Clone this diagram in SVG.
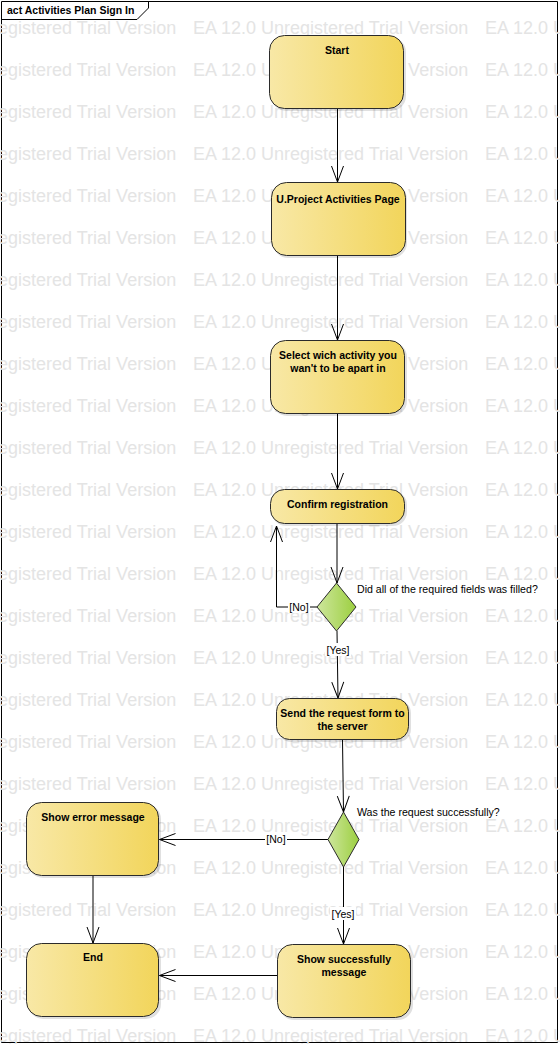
<svg xmlns="http://www.w3.org/2000/svg" xmlns:xlink="http://www.w3.org/1999/xlink" width="560" height="1044" viewBox="0 0 560 1044">
<style>
.wm{font-family:"Liberation Sans",Arial,sans-serif;font-size:18px;fill:#e4e4e4}
.node{fill:url(#yg);stroke:#2b2b2b;stroke-width:1}
.shadow{fill:#000;opacity:0.12}
.dec{fill:url(#gg);stroke:#2b2b2b;stroke-width:1}
.nt{font-family:"Liberation Sans",Arial,sans-serif;font-size:10.5px;font-weight:bold;fill:#000;text-anchor:middle}
.lt{font-family:"Liberation Sans",Arial,sans-serif;font-size:10.6px;fill:#000}
.lbl{font-family:"Liberation Sans",Arial,sans-serif;font-size:10.5px;fill:#000;text-anchor:middle}
.edge{fill:none;stroke:#000;stroke-width:1;marker-end:url(#arr)}
.frame{fill:none;stroke:#000;stroke-width:1}
</style>
<defs>
<linearGradient id="yg" x1="0" y1="0" x2="1" y2="0">
<stop offset="0" stop-color="#F8E8A6"/>
<stop offset="1" stop-color="#F2D55B"/>
</linearGradient>
<linearGradient id="gg" x1="0" y1="0" x2="1" y2="0">
<stop offset="0" stop-color="#CDE69C"/>
<stop offset="1" stop-color="#9CCF40"/>
</linearGradient>
<marker id="arr" markerUnits="userSpaceOnUse" markerWidth="20" markerHeight="16" viewBox="-18 -8 20 16" refX="0" refY="0" orient="auto">
<path d="M-16,-6 L0,0 L-16,6" fill="none" stroke="#000" stroke-width="1"/>
</marker>
<g id="wm">
<text class="wm" x="-99" y="0">EA 12.0 Unregistered Trial Version</text>
<text class="wm" x="193" y="0">EA 12.0 Unregistered Trial Version</text>
<text class="wm" x="485" y="0">EA 12.0 Unregistered Trial Version</text>
</g>
</defs>
<rect x="0" y="0" width="560" height="1044" fill="#fff"/>
<g id="frame">
<path class="frame" d="M1.5,1.5 H557.5 V1042.5 H1.5 Z"/>
<path class="frame" d="M1.5,19.5 H137 L148.5,8 V1.5"/>
<text x="7" y="14" font-family="Liberation Sans, Arial, sans-serif" font-size="10.5" font-weight="bold" fill="#000">act Activities Plan Sign In</text>
</g>
<g id="watermark">
<use xlink:href="#wm" y="33.5"/><use xlink:href="#wm" y="75.5"/><use xlink:href="#wm" y="117.5"/><use xlink:href="#wm" y="159.5"/><use xlink:href="#wm" y="201.5"/>
<use xlink:href="#wm" y="243.5"/><use xlink:href="#wm" y="285.5"/><use xlink:href="#wm" y="327.5"/><use xlink:href="#wm" y="369.5"/><use xlink:href="#wm" y="411.5"/>
<use xlink:href="#wm" y="453.5"/><use xlink:href="#wm" y="495.5"/><use xlink:href="#wm" y="537.5"/><use xlink:href="#wm" y="579.5"/><use xlink:href="#wm" y="621.5"/>
<use xlink:href="#wm" y="663.5"/><use xlink:href="#wm" y="705.5"/><use xlink:href="#wm" y="747.5"/><use xlink:href="#wm" y="789.5"/><use xlink:href="#wm" y="831.5"/>
<use xlink:href="#wm" y="873.5"/><use xlink:href="#wm" y="915.5"/><use xlink:href="#wm" y="957.5"/><use xlink:href="#wm" y="999.5"/><use xlink:href="#wm" y="1041.5"/>
</g>
<g id="connectors">
<path class="edge" d="M337.5,109 V182"/>
<path class="edge" d="M337.5,256 V340"/>
<path class="edge" d="M337.5,414 V489"/>
<path class="edge" d="M337,524 V583"/>
<path class="edge" d="M317,607 H276.5 V526"/>
<path class="edge" d="M337,631 L338,698"/>
<path class="edge" d="M342.5,740 L343.5,812"/>
<path class="edge" d="M328,839.5 H159.5"/>
<path class="edge" d="M343.5,867 V944"/>
<path class="edge" d="M93,876 V943"/>
<path class="edge" d="M277,975.5 H159.5"/>
<rect x="288" y="600" width="22" height="13" fill="#fff"/>
<text class="lbl" x="299" y="611">[No]</text>
<rect x="325" y="643" width="26" height="13" fill="#fff"/>
<text class="lbl" x="338" y="654">[Yes]</text>
<rect x="265" y="833" width="22" height="13" fill="#fff"/>
<text class="lbl" x="276" y="843">[No]</text>
<rect x="330" y="907" width="26" height="13" fill="#fff"/>
<text class="lbl" x="343" y="918">[Yes]</text>
<text class="lt" x="357" y="593">Did all of the required fields was filled?</text>
<text class="lt" x="357" y="816">Was the request successfully?</text>
</g>
<g id="start">
<rect class="shadow" x="271" y="37" width="135" height="74" rx="15"/>
<rect class="node" x="269.5" y="35.5" width="134" height="73" rx="15"/>
<text class="nt" x="337" y="54">Start</text>
</g>
<g id="project-page">
<rect class="shadow" x="273" y="184" width="134" height="74" rx="15"/>
<rect class="node" x="271.5" y="182.5" width="134" height="73" rx="15"/>
<text class="nt" x="338" y="203">U.Project Activities Page</text>
</g>
<g id="select-activity">
<rect class="shadow" x="272" y="342" width="135" height="74" rx="15"/>
<rect class="node" x="270.5" y="340.5" width="134" height="73" rx="15"/>
<text class="nt" x="338" y="359">Select wich activity you</text>
<text class="nt" x="338" y="371.5">wan't to be apart in</text>
</g>
<g id="confirm">
<rect class="shadow" x="272" y="491" width="135" height="35" rx="14"/>
<rect class="node" x="270.5" y="489.5" width="134" height="34" rx="14"/>
<text class="nt" x="337.5" y="508">Confirm registration</text>
</g>
<g id="decision1">
<path class="dec" d="M336.5,583 L356,607 L336.5,631 L317,607 Z"/>
</g>
<g id="send-request">
<rect class="shadow" x="278" y="700" width="133" height="42" rx="13"/>
<rect class="node" x="276.5" y="698.5" width="132" height="41" rx="13"/>
<text class="nt" x="342.5" y="717">Send the request form to</text>
<text class="nt" x="342.5" y="729.5">the server</text>
</g>
<g id="decision2">
<path class="dec" d="M343.5,812 L359,839.5 L343.5,867 L328,839.5 Z"/>
</g>
<g id="show-error">
<rect class="shadow" x="28" y="804" width="133" height="74" rx="15"/>
<rect class="node" x="26.5" y="802.5" width="132" height="73" rx="15"/>
<text class="nt" x="93" y="821">Show error message</text>
</g>
<g id="end">
<rect class="shadow" x="28" y="945" width="133" height="74" rx="15"/>
<rect class="node" x="26.5" y="943.5" width="132" height="73" rx="15"/>
<text class="nt" x="93" y="961">End</text>
</g>
<g id="show-success">
<rect class="shadow" x="279" y="946" width="134" height="74" rx="15"/>
<rect class="node" x="277.5" y="944.5" width="133" height="73" rx="15"/>
<text class="nt" x="344" y="963">Show successfully</text>
<text class="nt" x="344" y="976">message</text>
</g>
</svg>
